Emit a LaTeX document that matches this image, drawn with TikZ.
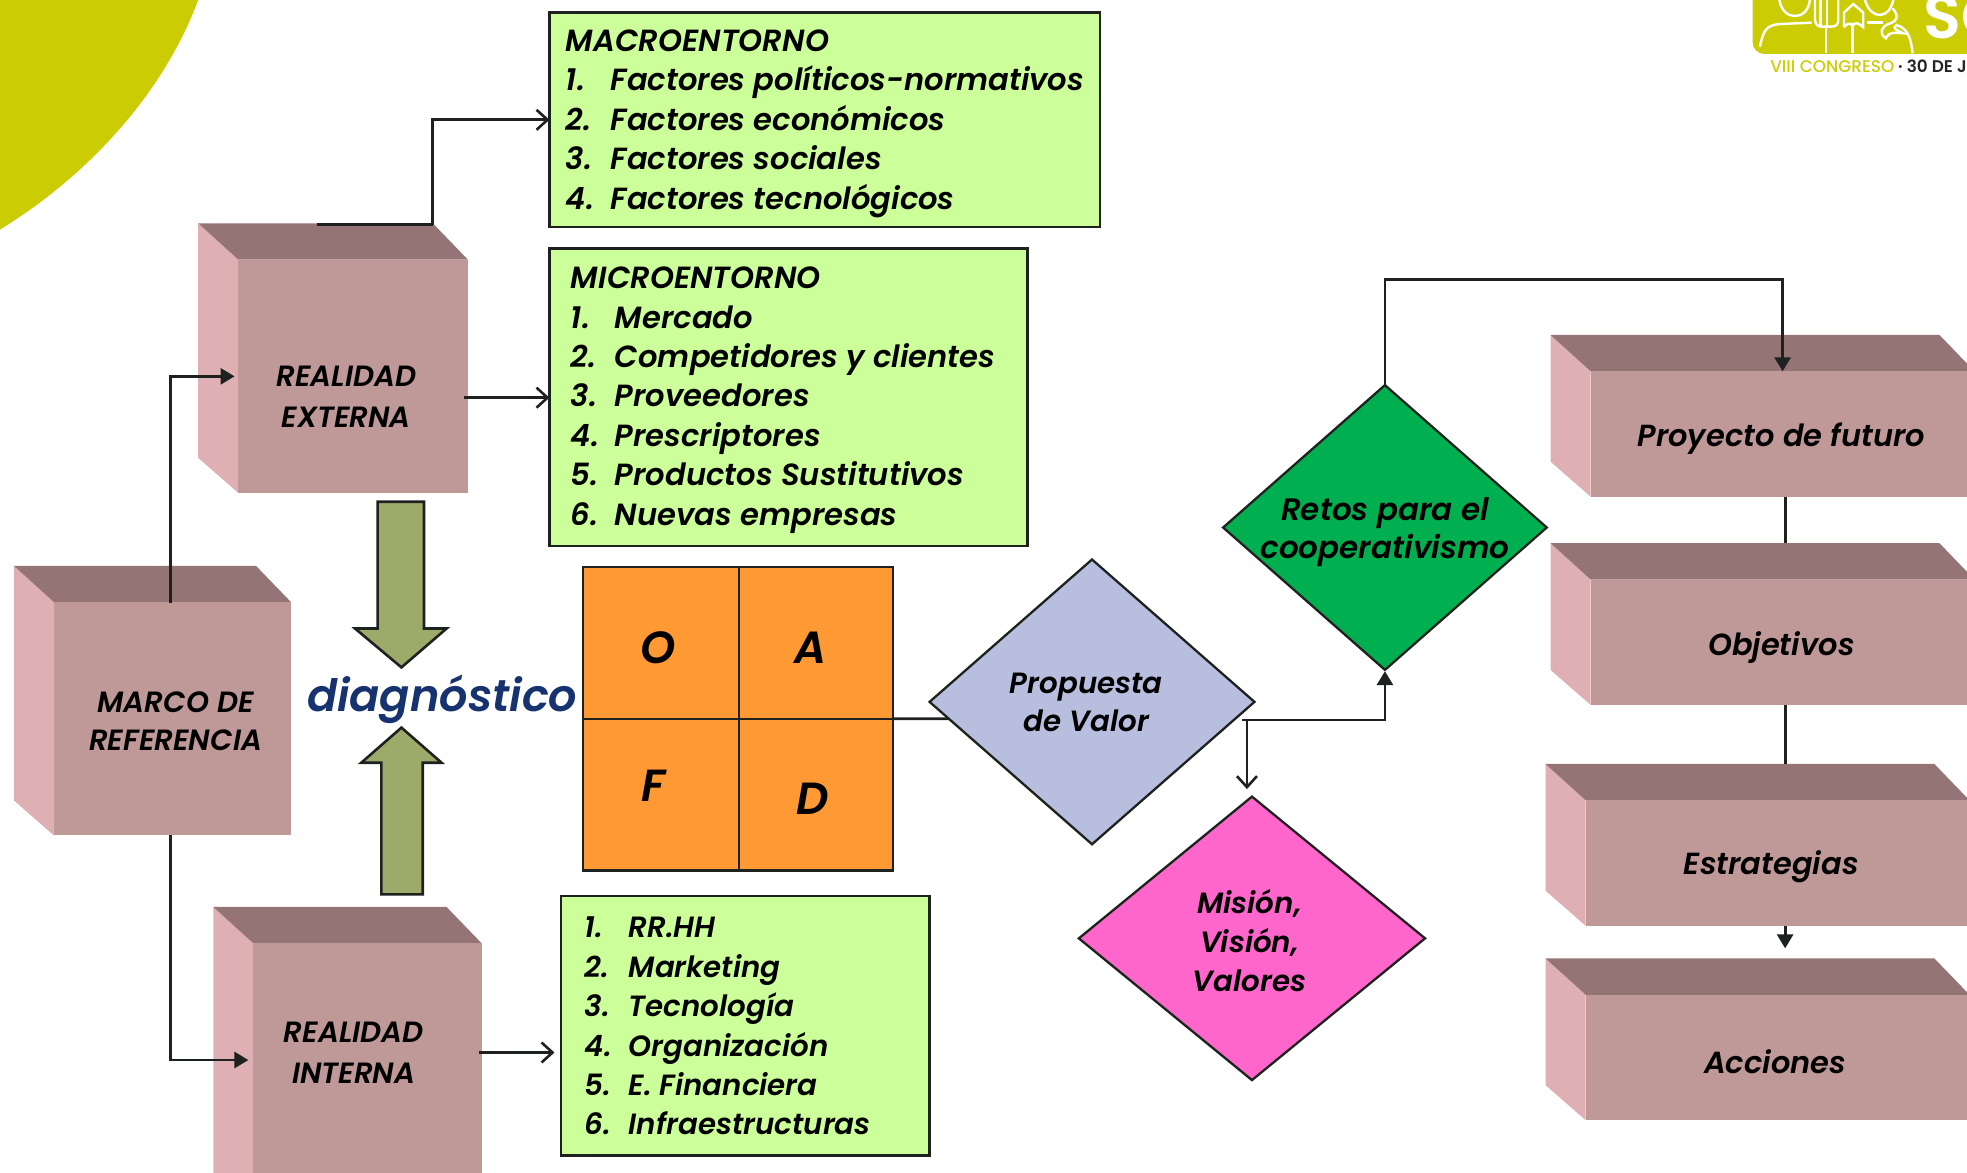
\documentclass[tikz,border=0pt]{standalone}
\usepackage{fontspec}
\setmainfont{Poppins}[UprightFont=* Medium,ItalicFont=* Medium Italic,BoldFont=* SemiBold,BoldItalicFont=* SemiBold Italic]
\usetikzlibrary{arrows.meta,shapes.geometric,calc}
\definecolor{cfront}{HTML}{BF9898}
\definecolor{cleft}{HTML}{DFB0B3}
\definecolor{ctop}{HTML}{947475}
\definecolor{cgreen}{HTML}{CCFF99}
\definecolor{corange}{HTML}{FF9933}
\definecolor{colive}{HTML}{9EAA6A}
\definecolor{cline}{HTML}{1E221E}
\definecolor{clime}{HTML}{CCCC05}
\definecolor{cdiag}{HTML}{16336F}
\definecolor{cprop}{HTML}{B8BEDD}
\definecolor{cretos}{HTML}{00B050}
\definecolor{cmis}{HTML}{FF66CC}
\newcommand{\cube}[6]{% name x0 y0 x1 y1 text-free
  \fill[cleft] (#2-32,#3-29) -- (#2,#3) -- (#2,#5) -- (#2-32,#5-28) -- cycle;
  \fill[ctop] (#2-32,#3-29) -- (#4-28,#3-29) -- (#4,#3) -- (#2,#3) -- cycle;
  \node[cubeface,anchor=north west,minimum width={(#4-#2)*1.2545pt},minimum height={(#5-#3)*1.2545pt}] (#1) at (#2,#3) {};
}
\tikzset{
  cubeface/.style={fill=cfront,inner sep=0pt,outer sep=0pt},
  listbox/.style={draw=cline,line width=2.3pt,fill=cgreen,inner sep=0pt,outer sep=0pt,anchor=north west},
  listtext/.style={anchor=west,align=left,inner sep=0pt,font=\fontsize{29.3}{39.4}\selectfont\bfseries\itshape},
  listwide/.style={anchor=west,align=left,inner sep=0pt,font=\fontsize{30.6}{39.4}\selectfont\bfseries\itshape},
  lbl/.style={align=center,inner sep=0pt,font=\fontsize{29.3}{39}\selectfont\bfseries\itshape},
  lblw/.style={align=center,inner sep=0pt,font=\fontsize{31}{39}\selectfont\bfseries\itshape},
  lblb/.style={align=center,inner sep=0pt,font=\fontsize{30.5}{38.5}\selectfont\bfseries\itshape},
  swotcell/.style={draw=cline,line width=2.3pt,fill=corange,inner sep=0pt,outer sep=0pt,anchor=north west},
  swotlet/.style={inner sep=0pt,font=\fontsize{45}{45}\selectfont\bfseries\itshape},
  dia/.style={diamond,draw=cline,line width=2.3pt,inner sep=0pt,outer sep=0pt,aspect=1.13},
  blockarrow/.style={draw=cline,line width=2.6pt,fill=colive,line join=miter},
  conn/.style={draw=cline,line width=2.8pt},
  solidtip/.style={-{Triangle[length=14pt,width=16pt]}},
  opentip/.style={-{Straight Barb[length=11pt,width=20pt,line width=2.6pt]}},
}
\begin{document}
\begin{tikzpicture}[x=1.2545pt,y=-1.2545pt]
\useasboundingbox (0,0) rectangle (1568,935);
\clip (0,0) rectangle (1568,935);
% corner
\fill[clime] (0,0) -- (158,0) .. controls (130,75) and (70,140) .. (0,183) -- cycle;
% logo
\fill[clime,rounded corners=12pt] (1397,-20) rectangle (1600,43);
\begin{scope}[xshift=1700pt,x=0.3333pt,y=-0.3333pt,white,line width=2.4pt]
  \draw (238,0) .. controls (245,35) and (265,48) .. (285,48) .. controls (305,48) and (325,35) .. (330,0);
  \draw (180,140) .. controls (190,90) and (200,75) .. (240,72) -- (335,68);
  \draw (345,0) -- (345,60) .. controls (347,75) and (355,80) .. (365,80) -- (395,80) .. controls (408,80) and (415,72) .. (415,60) -- (415,0);
  \draw (362,0) -- (362,78) (382,0) -- (382,78) (378,80) -- (378,160);
  \draw (432,82) -- (432,38) -- (460,12) -- (490,38) -- (490,82) .. controls (480,72) and (465,62) .. (458,78) .. controls (450,65) and (440,72) .. (432,82);
  \draw (458,70) -- (458,160);
  \draw (495,0) .. controls (505,35) and (525,45) .. (540,45) .. controls (560,45) and (575,25) .. (580,0);
  \draw (500,68) -- (548,68);
  \draw (578,25) .. controls (600,50) and (590,65) .. (565,72) .. controls (545,80) and (535,100) .. (558,115) .. controls (570,90) and (590,100) .. (610,100) .. controls (590,90) and (575,85) .. (590,75) .. controls (620,85) and (632,105) .. (638,160);
\end{scope}
\node[anchor=base west,inner sep=0pt,text=white,font=\fontsize{62}{62}\selectfont\bfseries] (logoS) at (1533.5,30.5) {SC};
\node[anchor=base west,inner sep=0pt,text=clime,font=\fontsize{16.9}{17}\selectfont] (logoA) at (1411,58) {VIII CONGRESO};
\node[anchor=base west,inner sep=0pt,text=black!85,font=\fontsize{16.9}{17}\selectfont\bfseries] (logoB) at (1513,58) {· 30 DE J};
% cubes
\cube{re}{190}{207}{373}{393}{}
\cube{mr}{43}{480}{232}{666}{}
\cube{ri}{202}{752}{384}{975}{}
\cube{pf}{1268}{296}{1574}{396}{}
\cube{ob}{1268}{462}{1574}{562}{}
\cube{es}{1264}{638}{1570}{738}{}
\cube{ac}{1264}{793}{1570}{893}{}
% cube labels
\node[lbl] (reL) at (276,316.5) {REALIDAD\\[2.4pt]EXTERNA};
\node[lbl] (mrL) at (140,575) {MARCO DE\\[-1.4pt]REFERENCIA};
\node[lbl] (riL) at (282,839) {REALIDAD\\[2.4pt]INTERNA};
\node[lblb] (pfL) at (1420,350) {Proyecto de futuro};
\node[lblb] (obL) at (1420,516) {Objetivos};
\node[lblb] (esL) at (1412,691) {Estrategias};
\node[lblb] (acL) at (1415,846) {Acciones};
% list boxes
\node[listbox,minimum width={439*1.2545pt},minimum height={171*1.2545pt}] (macro) at (438,10) {};
\node[listbox,minimum width={381*1.2545pt},minimum height={237*1.2545pt}] (micro) at (438,198) {};
\node[listbox,minimum width={294*1.2545pt},minimum height={207*1.2545pt}] (intern) at (447,714) {};
\node[listwide] (macroT) at (451,98.5) {MACROENTORNO\\
\makebox[45pt][l]{1.}Factores políticos-normativos\\
\makebox[45pt][l]{2.}Factores económicos\\
\makebox[45pt][l]{3.}Factores sociales\\
\makebox[45pt][l]{4.}Factores tecnológicos};
\node[listwide] (microT) at (455,319) {MICROENTORNO\\
\makebox[44pt][l]{1.}Mercado\\
\makebox[44pt][l]{2.}Competidores y clientes\\
\makebox[44pt][l]{3.}Proveedores\\
\makebox[44pt][l]{4.}Prescriptores\\
\makebox[44pt][l]{5.}Productos Sustitutivos\\
\makebox[44pt][l]{6.}Nuevas empresas};
\node[listtext] (internT) at (466,818) {\makebox[44pt][l]{1.}RR.HH\\
\makebox[44pt][l]{2.}Marketing\\
\makebox[44pt][l]{3.}Tecnología\\
\makebox[44pt][l]{4.}Organización\\
\makebox[44pt][l]{5.}E. Financiera\\
\makebox[44pt][l]{6.}Infraestructuras};
% block arrows
\draw[blockarrow] (301,400) -- (338,400) -- (338,501) -- (356,501) -- (320,532) -- (283,501) -- (301,501) -- cycle;
\draw[blockarrow] (304,713) -- (337,713) -- (337,608) -- (352,608) -- (320,580) -- (288,608) -- (304,608) -- cycle;
\node[inner sep=0pt,anchor=base,text=cdiag,font=\fontsize{44.6}{46}\selectfont\bfseries\itshape] (diag) at (352.5,567) {diagnóstico};
% SWOT
\node[swotcell,minimum width={124*1.2545pt},minimum height={121*1.2545pt}] (sO) at (465,452) {};
\node[swotcell,minimum width={123*1.2545pt},minimum height={121*1.2545pt}] (sA) at (589,452) {};
\node[swotcell,minimum width={124*1.2545pt},minimum height={121*1.2545pt}] (sF) at (465,573) {};
\node[swotcell,minimum width={123*1.2545pt},minimum height={121*1.2545pt}] (sD) at (589,573) {};
\node[swotlet] (lO) at (525,516) {O};
\node[swotlet] (lA) at (646,516) {A};
\node[swotlet] (lF) at (521,626) {F};
\node[swotlet] (lD) at (648,637) {D};
\coordinate (swotR) at (sA.south east);
\coordinate (provIn) at (870,573);
\draw[conn] (swotR) -- (provIn);
% diamonds
\node[dia,fill=cprop,minimum width={259*1.2545pt},minimum height={227*1.2545pt}] (prop) at (870.5,559.5) {};
\node[dia,fill=cretos,minimum width={258*1.2545pt},minimum height={227*1.2545pt}] (retos) at (1104,420.5) {};
\node[dia,fill=cmis,minimum width={276*1.2545pt},minimum height={226*1.2545pt}] (mis) at (998,748) {};
\node[lbl] (propL) at (866,560) {Propuesta\\[-1.4pt]de Valor};
\node[lblw] (retosL) at (1104,424) {Retos para el\\[-1.4pt]cooperativismo};
\node[lbl] (misL) at (996,749.5) {Misión,\\[0pt]Visión,\\[0pt]Valores};
% connectors
\coordinate (reTop) at (253,179);
\coordinate (reRight) at (370,317);
\coordinate (riRight) at (382,839);
\coordinate (riOut) at (442,839);
\coordinate (mrTop) at (136,481);
\coordinate (reIn) at (187,300);
\coordinate (mrBot) at (136,666);
\coordinate (riIn) at (198,845);
\coordinate (reCorner) at (345,179);
\coordinate (propOut) at (990,574);
\coordinate (misOrigin) at (994,574);
\coordinate (misIn) at (994,629);
\coordinate (retosIn) at (1104,535);
\coordinate (pfIn) at (1421,296);
\draw[conn] (reTop) -- (reCorner);
\draw[conn,opentip] (reCorner) |- (macro.west);
\draw[conn,opentip] (reRight) -- (micro.west |- reRight);
\draw[conn,opentip] (riRight) -- (riOut);
\draw[conn,solidtip] (mrTop) |- (reIn);
\draw[conn,solidtip] (mrBot) |- (riIn);
\draw[conn,solidtip] (propOut) -| (retosIn);
\draw[conn,opentip] (misOrigin) -- (misIn);
\draw[conn,solidtip] (retos.north) |- ++(0,-84) -| (pfIn);
\coordinate (pfB) at (1423,396);
\coordinate (obT) at (1423,433);
\coordinate (obB) at (1423,562);
\coordinate (esT) at (1423,609);
\coordinate (esB) at (1423,738);
\coordinate (acT) at (1423,756);
\draw[conn] (pfB) -- (obT);
\draw[conn] (obB) -- (esT);
\draw[conn,solidtip] (esB) -- (acT);
\end{tikzpicture}
\end{document}
